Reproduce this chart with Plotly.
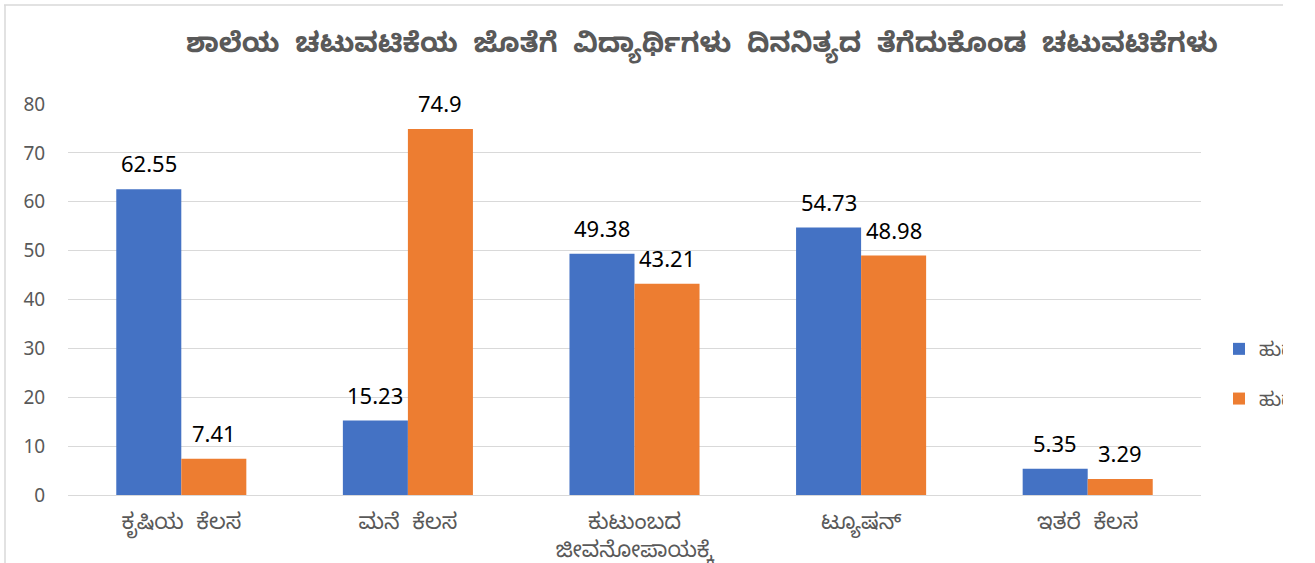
import plotly.graph_objects as go

categories = ["ಕೃಷಿಯ  ಕೆಲಸ", "ಮನೆ  ಕೆಲಸ", "ಕುಟುಂಬದ<br>ಜೀವನೋಪಾಯಕ್ಕೆ", "ಟ್ಯೂಷನ್", "ಇತರೆ  ಕೆಲಸ"]
boys = [62.55, 15.23, 49.38, 54.73, 5.35]
girls = [7.41, 74.9, 43.21, 48.98, 3.29]
boys_labels = ["62.55", "15.23", "49.38", "54.73", "5.35"]
girls_labels = ["7.41", "74.9", "43.21", "48.98", "3.29"]
series_names = ["ಹುಡುಗರು", "ಹುಡುಗಿಯರು"]
title = "ಶಾಲೆಯ  ಚಟುವಟಿಕೆಯ  ಜೊತೆಗೆ  ವಿದ್ಯಾರ್ಥಿಗಳು  ದಿನನಿತ್ಯದ  ತೆಗೆದುಕೊಂಡ  ಚಟುವಟಿಕೆಗಳು"

FONT = "Noto Sans Kannada, Noto Sans, Liberation Sans, sans-serif"
W, H = 1283, 563
L, R, T, B = 68, 1201, 104, 495
BAR_PX = 65

fig = go.Figure()
fig.add_trace(go.Bar(x=categories, y=boys, name=series_names[0], marker_color="#4472C4",
                     marker_line_width=0, legendgroup="a"))
fig.add_trace(go.Bar(x=categories, y=girls, name=series_names[1], marker_color="#ED7D31",
                     marker_line_width=0, legendgroup="b"))

for vals, labs, shift in [(boys, boys_labels, -BAR_PX / 2), (girls, girls_labels, BAR_PX / 2)]:
    for c, v, t in zip(categories, vals, labs):
        fig.add_annotation(x=c, y=v, text=t, showarrow=False, xref="x", yref="y",
                           xshift=shift, yshift=26, yanchor="middle", xanchor="center",
                           font=dict(size=22, color="#000000", family="Noto Sans, sans-serif"))


def px(x):
    return (x - L) / (R - L)


def py(y):
    return (B - y) / (B - T)


fig.add_shape(type="line", xref="paper", yref="paper", x0=px(4), x1=px(1290), y0=py(5), y1=py(5),
              line=dict(color="#D9D9D9", width=1.5))
fig.add_shape(type="line", xref="paper", yref="paper", x0=px(5), x1=px(5), y0=py(5), y1=py(600),
              line=dict(color="#D9D9D9", width=1.5))

fig.update_layout(
    width=W, height=H,
    margin=dict(l=L, r=W - R, t=T, b=H - B, autoexpand=False),
    paper_bgcolor="white", plot_bgcolor="white",
    font=dict(family=FONT, color="#595959"),
    barmode="group", bargap=0.426, bargroupgap=0,
    title=dict(text="<b>" + title + "</b>", x=px(688), xanchor="center", y=1 - 42 / H, yanchor="middle",
               font=dict(size=27.3, color="#595959", family=FONT)),
    legend=dict(x=px(1219), xanchor="left", y=py(374), yanchor="middle", tracegroupgap=22,
                font=dict(size=19, color="#595959"), bgcolor="rgba(0,0,0,0)"),
    yaxis=dict(range=[0, 80], dtick=10, showgrid=True, gridcolor="#D9D9D9", gridwidth=1.3,
               zeroline=False, showline=False, ticks="outside", ticklen=18, tickcolor="rgba(0,0,0,0)",
               tickfont=dict(size=19, color="#595959", family="Noto Sans, sans-serif")),
    xaxis=dict(showgrid=False, showline=True, linecolor="#D9D9D9", linewidth=1.3,
               ticks="outside", ticklen=6, tickcolor="rgba(0,0,0,0)",
               tickfont=dict(size=22, color="#595959"), tickangle=0),
    showlegend=True,
)

fig.write_html("out.html", config={"displayModeBar": False},
               post_script="document.body.style.margin='0';")
